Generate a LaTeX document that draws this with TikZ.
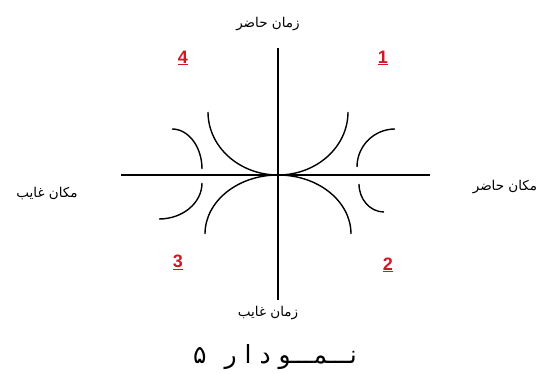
\documentclass[tikz,border=0pt]{standalone}
\usepackage{fontspec}
\usetikzlibrary{positioning}
\setsansfont{Liberation Sans}
\TeXXeTstate=1
\newfontfamily\arabicfont[Script=Arabic]{DejaVu Sans}
\definecolor{quadred}{HTML}{D01822}
\tikzset{
  axis/.style={line width=1.6pt, black},
  curve/.style={line width=1.4pt, black},
  quadnum/.style={font=\sffamily\bfseries\fontsize{18}{18}\selectfont, text=quadred},
  lbl/.style={font=\arabicfont\fontsize{13.5}{14}\selectfont},
  title/.style={font=\arabicfont\fontsize{25}{27}\selectfont},
}

\begin{document}
\begin{tikzpicture}[x=1pt, y=1pt]
  \useasboundingbox (0,0) rectangle (541,374);

  % axes
  \coordinate (vtop) at (278,326);
  \coordinate (vbot) at (278,74);
  \coordinate (hleft) at (121,199);
  \coordinate (hright) at (430,199);
  \draw[axis] (vtop) -- (vbot);
  \draw[axis] (hleft) -- (hright);

  % inner curves
  \draw[curve] (208,262) arc[start angle=180, end angle=360, x radius=70, y radius=63];
  \draw[curve] (205,140) arc[start angle=180, end angle=0, x radius=73, y radius=59];

  % outer curves
  \draw[curve] (172,245) arc[start angle=90, end angle=0, x radius=30, y radius=40];
  \draw[curve] (395,245) arc[start angle=90, end angle=180, x radius=38, y radius=38];
  \draw[curve] (202,191) arc[start angle=0, end angle=-90, x radius=43, y radius=36];
  \draw[curve] (359,190) arc[start angle=180, end angle=270, x radius=25, y radius=28];

  % quadrant numbers
  \node[quadnum] (q1) at (383,316) {\underline{1}};
  \node[quadnum] (q2) at (388,109) {\underline{2}};
  \node[quadnum] (q3) at (178,112) {\underline{3}};
  \node[quadnum] (q4) at (183,316) {\underline{4}};

  % axis labels
  \node[lbl] (timenow) at (268,350) {\beginR زمان حاضر\endR};
  \node[lbl] (timeabs) at (268,61) {\beginR زمان غایب\endR};
  \node[lbl] (placeabs) at (47,180) {\beginR مکان غایب\endR};
  \node[lbl] (placenow) at (505,187) {\beginR مکان حاضر\endR};

  \node[title] (caption) at (275,17)
    {\beginR نـــمـــو\hspace{8pt}د\hspace{8pt}ا\hspace{8pt}ر\hspace{18pt}۵\endR};
\end{tikzpicture}
\end{document}
